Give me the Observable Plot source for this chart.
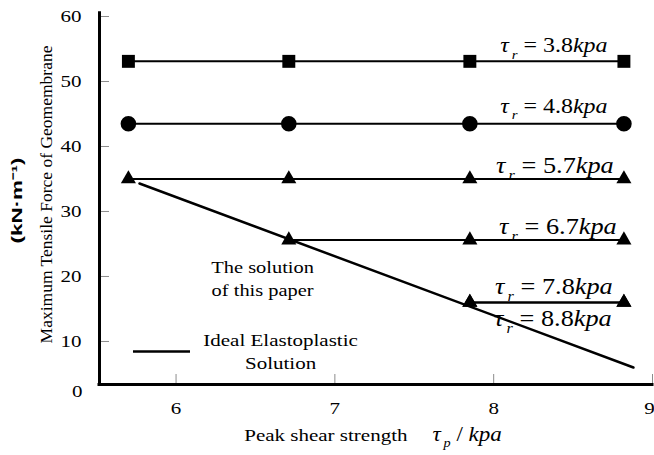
<!DOCTYPE html>
<html>
<head>
<meta charset="utf-8">
<script src="https://cdn.jsdelivr.net/npm/d3@7"></script>
<script src="https://cdn.jsdelivr.net/npm/@observablehq/plot@0.6"></script>
<style>
  html, body { margin: 0; padding: 0; background: #fff; }
  #chart svg { display: block; font-family: "Liberation Serif", "Times New Roman", Times, serif !important; }
</style>
</head>
<body>
<div id="chart"></div>
<script>
// Peak shear strength τp (kPa) of each computed case
const peakStrength = [5.70, 6.71, 7.85, 8.82];
// Residual shear strength τr (kPa) of each curve
const residualStrength = ["3.8", "4.8", "5.7", "6.7", "7.8", "8.8"];
// Maximum tensile force of the geomembrane for each τr (null: no result at that τp)
const forceR38 = [53.1, 53.1, 53.1, 53.1];
const forceR48 = [43.5, 43.5, 43.5, 43.5];
const forceR57 = [35.0, 35.0, 35.0, 35.0];
const forceR67 = [null, 25.6, 25.6, 25.6];
const forceR78 = [null, null, 16.0, 16.0];
const forceR88 = [null, null, 16.0, 16.0];
// Ideal elastoplastic solution
const idealPeak = [5.77, 8.88];
const idealForce = [34.3, 6.0];
// Axis ticks
const xTicks = [6, 7, 8, 9];
const yTicks = [0, 10, 20, 30, 40, 50, 60];

const xDomain = [5.518, 9];
const yDomain = [3.38, 60];

const W = 654, H = 455;
const M = {left: 99, right: 2, top: 16, bottom: 71};
const frameW = W - M.left - M.right;
const frameH = H - M.top - M.bottom;
const tickLen = 10;

const curves = [
  {tau: residualStrength[0], force: forceR38, symbol: "square",   r: 7.3, size: 20.5, dx: 7,  dy: -15.5},
  {tau: residualStrength[1], force: forceR48, symbol: "circle",   r: 7.8, size: 20.5, dx: 7,  dy: -17.5},
  {tau: residualStrength[2], force: forceR57, symbol: "triangle", r: 5.6, size: 22.5, dx: 8,  dy: -13.5},
  {tau: residualStrength[3], force: forceR67, symbol: "triangle", r: 5.6, size: 22.5, dx: 11, dy: -13},
  {tau: residualStrength[4], force: forceR78, symbol: "triangle", r: 5.6, size: 22.5, dx: 7,  dy: -16},
  {tau: residualStrength[5], force: forceR88, symbol: "triangle", r: 5.6, size: 22.5, dx: 6,  dy: 16}
];

const curveMarks = curves.flatMap(c => {
  const pts = peakStrength.map((x, i) => ({x, y: c.force[i]})).filter(d => d.y != null);
  const n = pts.length;
  const tag = {x: (pts[n - 2].x + pts[n - 1].x) / 2, y: pts[n - 1].y, text: `τ_r = ${c.tau}kpa`};
  return [
    Plot.line(pts, {x: "x", y: "y", stroke: "black", strokeWidth: 2}),
    Plot.dot(pts, {x: "x", y: "y", symbol: () => c.symbol, r: c.r, fill: "black", stroke: "none"}),
    Plot.text([tag], {x: "x", y: "y", text: "text", fontSize: c.size, dx: c.dx, dy: c.dy, fill: "black"})
  ];
});

const ideal = idealPeak.map((x, i) => ({x, y: idealForce[i]}));

// Annotation anchors (data coordinates)
const noteAt = {x: 6.545, y: 21.4};
const keyLine = {x1: 5.732, x2: 6.091, y: 8.46};
const keyText = {x: 6.658, y: 10.15};

const yShown = yTicks.filter(v => v >= yDomain[0]);
const xLast = xTicks[xTicks.length - 1];

const chart = Plot.plot({
  width: W,
  height: H,
  marginLeft: M.left,
  marginRight: M.right,
  marginTop: M.top,
  marginBottom: M.bottom,
  x: {domain: xDomain},
  y: {domain: yDomain},
  style: {fontSize: "17.5px", background: "white", color: "black", overflow: "hidden"},
  marks: [
    // short gray ticks pointing into the frame
    Plot.tickY(yShown, {y: d => d, insetRight: frameW - tickLen, stroke: "#8c8c8c", strokeWidth: 1}),
    Plot.tickX(xTicks, {x: d => d, insetTop: frameH - tickLen, stroke: "#8c8c8c", strokeWidth: 1}),
    // tick labels
    Plot.axisY(yShown, {tickSize: 0, tickPadding: 18, label: null, fontSize: 17.5, tickFormat: d => String(d)}),
    Plot.axisX(xTicks.filter(v => v !== xLast), {tickSize: 0, tickPadding: 17, label: null, fontSize: 17.5, tickFormat: d => String(d)}),
    Plot.text([xLast], {x: d => d, y: () => yDomain[0], text: d => String(d), dx: -3, dy: 24, fontSize: 17.5}),
    Plot.text([yTicks[0]], {x: () => xDomain[0], y: () => yDomain[0], text: d => String(d), textAnchor: "end", dx: -17, dy: 7, fontSize: 17.5}),
    // heavy axis lines
    Plot.ruleX([xDomain[0]], {y1: yDomain[0], y2: 60.5, strokeWidth: 3, strokeLinecap: "square"}),
    Plot.ruleY([yDomain[0]], {x1: xDomain[0], x2: xDomain[1], strokeWidth: 3, strokeLinecap: "square"}),
    // ideal elastoplastic solution
    Plot.line(ideal, {x: "x", y: "y", stroke: "black", strokeWidth: 2.5}),
    ...curveMarks,
    // notes and key
    Plot.text(["The solution"], {x: () => noteAt.x, y: () => noteAt.y, text: d => d, fontSize: 17}),
    Plot.text(["of this paper"], {x: () => noteAt.x, y: () => noteAt.y, text: d => d, dy: 23, fontSize: 17}),
    Plot.ruleY([keyLine.y], {x1: keyLine.x1, x2: keyLine.x2, strokeWidth: 2.5}),
    Plot.text(["Ideal Elastoplastic"], {x: () => keyText.x, y: () => keyText.y, text: d => d, fontSize: 17.5}),
    Plot.text(["Solution"], {x: () => keyText.x, y: () => keyText.y, text: d => d, dy: 23, fontSize: 17.5}),
    // axis titles
    Plot.text(["Maximum Tensile Force of Geomembrane"], {frameAnchor: "left", textAnchor: "middle", text: d => d, rotate: -90, dx: -53, dy: -6, fontSize: 17.5}),
    Plot.text(["(kN·m⁻¹)"], {frameAnchor: "left", textAnchor: "middle", text: d => d, rotate: -90, dx: -82, dy: 0, fontSize: 15, fontWeight: "bold", fontFamily: "'Liberation Sans', sans-serif"}),
    Plot.text(["Peak shear strength"], {frameAnchor: "bottom-left", text: d => d, textAnchor: "end", dx: 308, dy: 56, fontSize: 17.5}),
    Plot.text(["τ_p / kpa"], {frameAnchor: "bottom-left", text: d => d, textAnchor: "start", dx: 333, dy: 56, fontSize: 20})
  ]
});

document.getElementById("chart").appendChild(chart);

// Typeset τ with a subscript, and widen the serif lettering horizontally
const NS = "http://www.w3.org/2000/svg";
const WIDEN = 1.2;
chart.querySelectorAll("text").forEach(t => {
  const raw = t.textContent;
  const m = raw.match(/^τ_(\w)(.*?)(kpa)$/);
  if (m) {
    const fs = parseFloat(getComputedStyle(t).fontSize);
    t.textContent = "";
    t.style.whiteSpace = "pre";
    const add = (s, attrs) => {
      const ts = document.createElementNS(NS, "tspan");
      ts.textContent = s;
      for (const k in attrs) ts.setAttribute(k, attrs[k]);
      t.appendChild(ts);
    };
    add("τ", {"font-style": "italic"});
    add(m[1], {"font-style": "italic", "font-size": fs * 0.62, dx: fs * 0.12, dy: fs * 0.32});
    add(m[2], {dy: -fs * 0.32});
    add(m[3], {"font-style": "italic"});
  }
  const tr = t.getAttribute("transform") || "";
  if (tr.includes("rotate")) {
    if (raw === "(kN·m⁻¹)") {
      t.setAttribute("textLength", 86);
      t.setAttribute("lengthAdjust", "spacingAndGlyphs");
    }
    return;
  }
  const len = t.getComputedTextLength();
  t.setAttribute("textLength", len * WIDEN);
  t.setAttribute("lengthAdjust", "spacingAndGlyphs");
});
</script>
</body>
</html>
